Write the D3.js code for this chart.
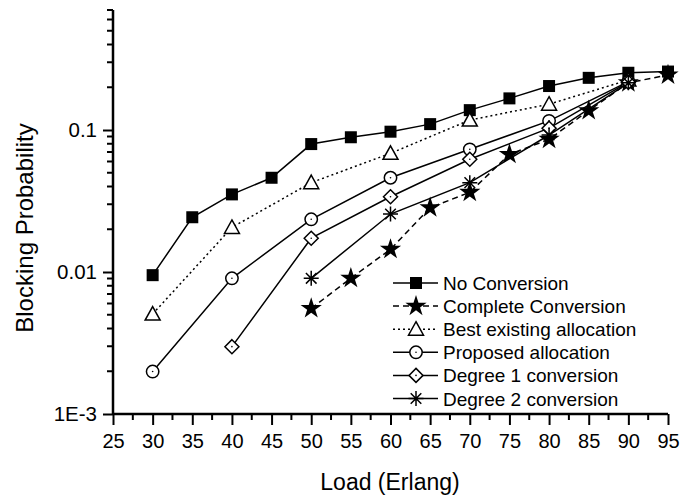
<!DOCTYPE html>
<html><head><meta charset="utf-8">
<script src="https://cdn.jsdelivr.net/npm/d3@7/dist/d3.min.js"></script>
<style>body{margin:0;background:#fff}svg{display:block}text{font-family:"Liberation Sans",Arial,sans-serif}</style>
</head><body>
<svg id="c" width="693" height="497"></svg>
<script>
const xTicks = [25,30,35,40,45,50,55,60,65,70,75,80,85,90,95];
const yTickLabels = ["1E-3","0.01","0.1"];
const seriesNames = ["No Conversion","Complete Conversion","Best existing allocation","Proposed allocation","Degree 1 conversion","Degree 2 conversion"];

const noConvX = [30,35,40,45,50,55,60,65,70,75,80,85,90,95];
const noConvY = [0.0095,0.0243,0.0352,0.0461,0.0796,0.0889,0.0973,0.110,0.138,0.167,0.204,0.233,0.253,0.258];
const completeX = [50,55,60,65,70,75,80,85,90,95];
const completeY = [0.00554,0.00904,0.01445,0.0284,0.0364,0.0674,0.0860,0.137,0.215,0.244];
const bestX = [30,40,50,60,70,80,90];
const bestY = [0.00506,0.0206,0.0426,0.0685,0.1175,0.152,0.225];
const proposedX = [30,40,50,60,70,80,90];
const proposedY = [0.00199,0.00903,0.0235,0.0461,0.0731,0.116,0.219];
const deg1X = [40,50,60,70,80,90];
const deg1Y = [0.00298,0.0173,0.0339,0.0622,0.103,0.217];
const deg2X = [50,60,70,80,90];
const deg2Y = [0.00903,0.0256,0.0426,0.0922,0.215];

const svg = d3.select("#c");
const L=113, R=668, T=10, B=414;
const x = d3.scaleLinear().domain([25,95]).range([L,R]);
const y = d3.scaleLog().domain([0.001,0.7]).range([B,T]);

// axes
const xAxis = d3.axisBottom(x).tickValues(xTicks).tickSize(11).tickPadding(9).tickFormat(d3.format("d"));
const gx = svg.append("g").attr("transform",`translate(0,${B})`).call(xAxis);
const xMinor = d3.range(27.5,95,5);
gx.selectAll(".minor").data(xMinor).enter().append("line").attr("class","minor")
  .attr("x1",d=>x(d)).attr("x2",d=>x(d)).attr("y1",0).attr("y2",6).attr("stroke","#000").attr("stroke-width",2);
gx.select(".domain").attr("d",`M${L},0H${R}`).attr("stroke-width",2.5);
gx.selectAll(".tick line").attr("stroke-width",2);
gx.selectAll(".tick text").attr("font-size",20).attr("fill","#000");

const yMajor = [0.001,0.01,0.1];
const yAxis = d3.axisLeft(y).tickValues(yMajor).tickSize(10).tickPadding(6).tickFormat((d,i)=>yTickLabels[i]);
const gy = svg.append("g").attr("transform",`translate(${L},0)`).call(yAxis);
const yMinor = [];
[0.001,0.01,0.1].forEach(b=>{for(let k=2;k<=9;k++){const v=b*k; if(v<=0.7001) yMinor.push(v);}});
gy.selectAll(".minor").data(yMinor).enter().append("line").attr("class","minor")
  .attr("y1",d=>y(d)).attr("y2",d=>y(d)).attr("x1",0).attr("x2",-6).attr("stroke","#000").attr("stroke-width",2);
gy.select(".domain").attr("d",`M0,${B}V${T}`).attr("stroke-width",2.5);
gy.selectAll(".tick line").attr("stroke-width",2);
gy.selectAll(".tick text").attr("font-size",20.5).attr("fill","#000");

svg.append("text").attr("x",390).attr("y",490).attr("text-anchor","middle").attr("font-size",23).text("Load (Erlang)");
svg.append("text").attr("transform","translate(33,228) rotate(-90)").attr("text-anchor","middle").attr("font-size",24).text("Blocking Probability");

// marker drawing
function marker(g, type, cx, cy){
  const s="#000";
  if(type==="square") g.append("rect").attr("x",cx-6).attr("y",cy-6).attr("width",12).attr("height",12).attr("fill",s);
  else if(type==="star") g.append("path").attr("d",d3.symbol(d3.symbolStar,140)()).attr("transform",`translate(${cx},${cy})`).attr("fill",s);
  else if(type==="triangle") g.append("path").attr("d",`M${cx},${cy-7.5}L${cx+7.5},${cy+6}L${cx-7.5},${cy+6}Z`).attr("fill","#fff").attr("stroke",s).attr("stroke-width",1.5);
  else if(type==="circle"){ g.append("circle").attr("cx",cx).attr("cy",cy).attr("r",6.2).attr("fill","#fff").attr("stroke",s).attr("stroke-width",1.5);
    g.append("circle").attr("cx",cx).attr("cy",cy).attr("r",0.8).attr("fill",s);}
  else if(type==="diamond"){ g.append("path").attr("d",`M${cx},${cy-7}L${cx+7},${cy}L${cx},${cy+7}L${cx-7},${cy}Z`).attr("fill","#fff").attr("stroke",s).attr("stroke-width",1.5);
    g.append("circle").attr("cx",cx).attr("cy",cy).attr("r",0.8).attr("fill",s);}
  else if(type==="asterisk"){ const r=7.5; const p=[];
    for(let a=0;a<180;a+=45){const t=a*Math.PI/180; p.push(`M${cx-r*Math.cos(t)},${cy-r*Math.sin(t)}L${cx+r*Math.cos(t)},${cy+r*Math.sin(t)}`);}
    g.append("path").attr("d",p.join("")).attr("stroke",s).attr("stroke-width",1.5).attr("fill","none");}
}

const series = [
  {xs:noConvX, ys:noConvY, m:"square", dash:null},
  {xs:completeX, ys:completeY, m:"star", dash:"6,4"},
  {xs:bestX, ys:bestY, m:"triangle", dash:"2,3"},
  {xs:proposedX, ys:proposedY, m:"circle", dash:null},
  {xs:deg1X, ys:deg1Y, m:"diamond", dash:null},
  {xs:deg2X, ys:deg2Y, m:"asterisk", dash:null}
];
const line = d3.line().x(d=>x(d[0])).y(d=>y(d[1]));
const gl = svg.append("g");
series.forEach(s=>{
  const pts = s.xs.map((v,i)=>[v,s.ys[i]]);
  gl.append("path").attr("d",line(pts)).attr("fill","none").attr("stroke","#000").attr("stroke-width",1.5)
    .attr("stroke-dasharray",s.dash);
});
const gm = svg.append("g");
series.forEach(s=>{ s.xs.forEach((v,i)=>marker(gm,s.m,x(v),y(s.ys[i]))); });

// legend
const lg = svg.append("g");
seriesNames.forEach((n,i)=>{
  const yy = 283 + i*23.1;
  lg.append("line").attr("x1",393).attr("x2",438).attr("y1",yy).attr("y2",yy).attr("stroke","#000").attr("stroke-width",1.5)
    .attr("stroke-dasharray",series[i].dash);
  marker(lg,series[i].m,416,yy);
  lg.append("text").attr("x",443).attr("y",yy+7).attr("font-size",19).text(n);
});
</script>
</body></html>
